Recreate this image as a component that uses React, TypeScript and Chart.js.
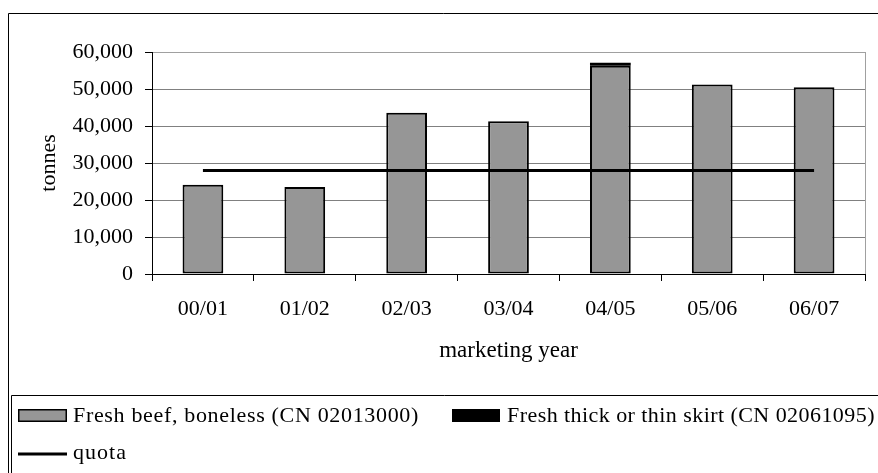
import React, { useEffect, useRef } from "react";
import { Chart, registerables } from "chart.js";

Chart.register(...registerables);

// ---- data ----
const years = ["00/01", "01/02", "02/03", "03/04", "04/05", "05/06", "06/07"];
const freshBeef = [24100, 23500, 43600, 41300, 56300, 51200, 50500];
const skirt = [0, 0, 0, 0, 800, 0, 0];
const quota = [28000, 28000, 28000, 28000, 28000, 28000, 28000];
const yTickMin = 0;
const yTickMax = 60000;
const yTickStep = 10000;
const seriesLabels = [
  "Fresh beef, boneless (CN 02013000)",
  "Fresh thick or thin skirt (CN 02061095)",
  "quota",
];
const yAxisTitle = "tonnes";
const xAxisTitle = "marketing year";

const FONT = "'Liberation Serif', 'Times New Roman', serif";
const GREY = "#969696";

function fitText(ctx: any, text: string, x: number, y: number, target: number) {
  try {
    ctx.letterSpacing = "0px";
  } catch (e) {}
  const w = ctx.measureText(text).width;
  const sp = Math.max(0, (target - w) / text.length);
  try {
    ctx.letterSpacing = sp.toFixed(2) + "px";
  } catch (e) {}
  ctx.fillText(text, x, y);
  try {
    ctx.letterSpacing = "0px";
  } catch (e) {}
}

const framePlugin = {
  id: "frameAndLegend",
  beforeDatasetsDraw(chart: any) {
    const { ctx, chartArea } = chart;
    ctx.save();
    ctx.strokeStyle = "#a0a0a0";
    ctx.lineWidth = 1;
    ctx.beginPath();
    ctx.moveTo(Math.round(chartArea.right) + 0.5, chartArea.top);
    ctx.lineTo(Math.round(chartArea.right) + 0.5, chartArea.bottom);
    ctx.stroke();
    ctx.restore();
  },
  afterDraw(chart: any) {
    const { ctx } = chart;
    const W = chart.width;
    const H = chart.height;
    ctx.save();
    // outer frame
    ctx.strokeStyle = "#000";
    ctx.lineWidth = 1;
    ctx.beginPath();
    ctx.moveTo(8.5, H);
    ctx.lineTo(8.5, 13.5);
    ctx.lineTo(W, 13.5);
    ctx.stroke();
    // legend frame
    ctx.beginPath();
    ctx.moveTo(11.5, H);
    ctx.lineTo(11.5, 395.5);
    ctx.lineTo(W, 395.5);
    ctx.stroke();

    const ds = chart.data.datasets;
    ctx.font = `22px ${FONT}`;
    ctx.fillStyle = "#000";
    ctx.textBaseline = "middle";
    ctx.textAlign = "left";

    // item 1: grey box
    ctx.fillStyle = ds[0].backgroundColor;
    ctx.fillRect(18, 409, 49, 13);
    ctx.strokeStyle = "#000";
    ctx.lineWidth = 1.5;
    ctx.strokeRect(18.75, 409.75, 47.5, 11.5);
    ctx.fillStyle = "#000";
    fitText(ctx, ds[0].label, 73, 416, 346);

    // item 2: black box
    ctx.fillStyle = ds[1].backgroundColor;
    ctx.fillRect(452, 409, 48, 13);
    ctx.fillStyle = "#000";
    fitText(ctx, ds[1].label, 507, 416, 368);

    // item 3: line
    ctx.strokeStyle = ds[2].borderColor;
    ctx.lineWidth = 3;
    ctx.beginPath();
    ctx.moveTo(18, 454);
    ctx.lineTo(67, 454);
    ctx.stroke();
    ctx.fillStyle = "#000";
    fitText(ctx, ds[2].label, 73, 453, 54);
    ctx.restore();
  },
};

export default function App() {
  const ref = useRef<HTMLCanvasElement | null>(null);

  useEffect(() => {
    if (!ref.current) return;
    const chart = new Chart(ref.current, {
      type: "bar",
      data: {
        labels: years,
        datasets: [
          {
            type: "bar",
            label: seriesLabels[0],
            data: freshBeef,
            backgroundColor: GREY,
            borderColor: "#000",
            borderWidth: 2,
            borderSkipped: false,
            stack: "beef",
            order: 1,
            barPercentage: 0.4,
            categoryPercentage: 1,
          },
          {
            type: "bar",
            label: seriesLabels[1],
            data: skirt,
            backgroundColor: "#000",
            borderColor: "#000",
            borderWidth: 0,
            stack: "beef",
            order: 2,
            barPercentage: 0.4,
            categoryPercentage: 1,
          },
          {
            type: "line",
            label: seriesLabels[2],
            data: quota,
            borderColor: "#000",
            backgroundColor: "#000",
            borderWidth: 3,
            pointRadius: 0,
            fill: false,
            stack: "quota",
            order: 0,
          } as any,
        ],
      },
      options: {
        responsive: false,
        animation: false,
        events: [],
        layout: { padding: { left: 30, right: 13, top: 52, bottom: 89 } },
        plugins: {
          legend: { display: false },
          tooltip: { enabled: false },
          title: { display: false },
        },
        scales: {
          x: {
            stacked: true,
            offset: true,
            afterFit: (s: any) => {
              s.height = 110;
            },
            border: { color: "#000", width: 1 },
            grid: {
              offset: true,
              drawOnChartArea: false,
              drawTicks: true,
              tickLength: 7,
              color: "#000",
              tickColor: "#000",
            },
            ticks: {
              color: "#000",
              padding: 15,
              maxRotation: 0,
              font: { family: FONT, size: 22 },
            },
            title: {
              display: true,
              text: xAxisTitle,
              color: "#000",
              font: { family: FONT, size: 23 },
              padding: { top: 0, bottom: 19 },
            },
          },
          y: {
            stacked: true,
            min: yTickMin,
            max: yTickMax,
            afterFit: (s: any) => {
              s.width = 122;
            },
            border: { color: "#000", width: 1 },
            grid: {
              color: (c: any) =>
                c.tick && c.tick.value === yTickMax ? "#a0a0a0" : "#808080",
              tickColor: "#000",
              tickLength: 7,
              drawTicks: true,
            },
            ticks: {
              stepSize: yTickStep,
              color: "#000",
              padding: 12,
              font: { family: FONT, size: 22 },
              callback: (v: any) => Number(v).toLocaleString("en-US"),
            },
            title: {
              display: true,
              text: yAxisTitle,
              color: "#000",
              font: { family: FONT, size: 22, lineHeight: 1 },
              padding: { top: 8, bottom: 0 },
            },
          },
        },
      },
      plugins: [framePlugin],
    });
    return () => chart.destroy();
  }, []);

  return (
    <div
      style={{
        position: "fixed",
        left: 0,
        top: 0,
        width: 878,
        height: 473,
        background: "#fff",
        overflow: "hidden",
      }}
    >
      <canvas
        ref={ref}
        width={878}
        height={473}
        style={{ display: "block", width: 878, height: 473 }}
      />
    </div>
  );
}
